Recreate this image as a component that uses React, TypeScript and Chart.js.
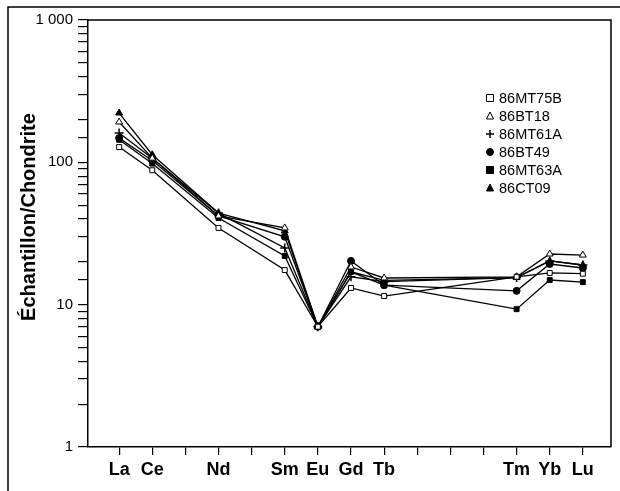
import React, { useEffect, useRef } from "react";
import { Chart, registerables } from "chart.js";

Chart.register(...registerables);

// Element sequence (positions on the x axis) and which ones are labelled
const ELEMENTS = ["La", "Ce", "Pr", "Nd", "Pm", "Sm", "Eu", "Gd", "Tb", "Dy", "Ho", "Er", "Tm", "Yb", "Lu"];
const SHOWN = ["La", "Ce", "Nd", "Sm", "Eu", "Gd", "Tb", "Tm", "Yb", "Lu"];
const Y_TICKS: Record<number, string> = { 1: "1", 10: "10", 100: "100", 1000: "1 000" };

// Chondrite-normalised values at SHOWN elements
const MT75B = [128, 88, 34.6, 17.5, 7.0, 13.1, 11.5, 15.7, 16.7, 16.5];
const BT18 = [192, 107, 42, 34.6, 7.0, 18.4, 15.4, 15.7, 22.7, 22.3];
const MT61A = [161, 107, 44, 25, 7.0, 15.7, 14.5, 15.5, 20.3, 19];
const BT49 = [148, 103, 42, 30, 7.0, 20.3, 13.7, 12.5, 19.3, 18.1];
const MT63A = [144, 98, 40.6, 22, 7.0, 17, 13.7, 9.3, 14.9, 14.4];
const CT09 = [222, 113, 44, 33, 7.0, 17, 14.8, 15.5, 20.3, 19];

const SERIES = [
  { name: "86MT75B", data: MT75B, style: "rect", fill: "#fff" },
  { name: "86BT18", data: BT18, style: "triangle", fill: "#fff" },
  { name: "86MT61A", data: MT61A, style: "cross", fill: "#000" },
  { name: "86BT49", data: BT49, style: "circle", fill: "#000" },
  { name: "86MT63A", data: MT63A, style: "rect", fill: "#000" },
  { name: "86CT09", data: CT09, style: "triangle", fill: "#000" },
];

const FONT = "'Liberation Sans', Arial, Helvetica, sans-serif";

function drawMarker(ctx: CanvasRenderingContext2D, style: string, fill: string, x: number, y: number) {
  ctx.save();
  ctx.strokeStyle = "#000";
  ctx.fillStyle = fill;
  ctx.lineWidth = 1;
  ctx.beginPath();
  if (style === "rect") {
    ctx.rect(x - 3.5, y - 3.5, 7, 7);
    ctx.fill();
    ctx.stroke();
  } else if (style === "triangle") {
    ctx.moveTo(x, y - 4);
    ctx.lineTo(x + 3.5, y + 3);
    ctx.lineTo(x - 3.5, y + 3);
    ctx.closePath();
    ctx.fill();
    ctx.stroke();
  } else if (style === "circle") {
    ctx.arc(x, y, 3.5, 0, Math.PI * 2);
    ctx.fill();
    ctx.stroke();
  } else {
    ctx.lineWidth = 1.5;
    ctx.moveTo(x - 4, y);
    ctx.lineTo(x + 4, y);
    ctx.moveTo(x, y - 4);
    ctx.lineTo(x, y + 4);
    ctx.stroke();
  }
  ctx.restore();
}

const decorPlugin = {
  id: "decor",
  afterDraw(chart: any) {
    const ctx: CanvasRenderingContext2D = chart.ctx;
    const { left, top, right, bottom } = chart.chartArea;
    ctx.save();
    ctx.strokeStyle = "#000";
    ctx.lineWidth = 1.5;
    ctx.beginPath();
    ctx.moveTo(left, top);
    ctx.lineTo(right, top);
    ctx.lineTo(right, bottom);
    ctx.stroke();
    // outer frame
    ctx.beginPath();
    ctx.moveTo(8, 491);
    ctx.lineTo(8, 7);
    ctx.lineTo(620, 7);
    ctx.stroke();
    // y title
    ctx.save();
    ctx.translate(29, 217);
    ctx.rotate(-Math.PI / 2);
    ctx.fillStyle = "#000";
    ctx.font = `bold 20px ${FONT}`;
    ctx.textAlign = "center";
    ctx.textBaseline = "middle";
    ctx.fillText("Échantillon/Chondrite", 0, 0);
    ctx.restore();
    // legend
    ctx.font = `14.5px ${FONT}`;
    ctx.fillStyle = "#000";
    ctx.textAlign = "left";
    ctx.textBaseline = "middle";
    SERIES.forEach((s, i) => {
      const y = 98 + i * 18;
      drawMarker(ctx, s.style, s.fill, 490, y);
      ctx.fillStyle = "#000";
      ctx.fillText(s.name, 499, y + 1);
    });
    ctx.restore();
  },
};

export default function App() {
  const ref = useRef<HTMLCanvasElement>(null);
  useEffect(() => {
    if (!ref.current) return;
    const positions = SHOWN.map((e) => ELEMENTS.indexOf(e));
    const chart = new Chart(ref.current, {
      type: "line",
      data: {
        datasets: SERIES.map((s) => ({
          label: s.name,
          data: s.data.map((v, i) => ({ x: positions[i], y: v })),
          borderColor: "#000",
          borderWidth: 1.3,
          backgroundColor: s.fill,
          pointBackgroundColor: s.fill,
          pointBorderColor: "#000",
          pointBorderWidth: s.style === "cross" ? 1.5 : 1,
          pointStyle: s.style as any,
          pointRadius: s.style === "triangle" ? 4 : s.style === "cross" ? 4.5 : 3.5,
          tension: 0,
          fill: false,
        })),
      },
      options: {
        responsive: false,
        animation: false,
        devicePixelRatio: 1,
        layout: { padding: { left: 0, top: 20, right: 9, bottom: 0 } },
        plugins: { legend: { display: false }, tooltip: { enabled: false } },
        scales: {
          x: {
            type: "linear",
            min: -0.94,
            max: 14.85,
            afterBuildTicks: (scale: any) => {
              scale.ticks = ELEMENTS.map((_, i) => ({ value: i }));
            },
            afterFit: (scale: any) => {
              scale.height = 44;
            },
            grid: { display: true, drawOnChartArea: false, drawTicks: true, tickLength: 8, color: "#000", lineWidth: 1.2 },
            border: { display: true, color: "#000", width: 1.5 },
            ticks: {
              autoSkip: false,
              maxRotation: 0,
              padding: 4,
              color: "#000",
              font: { family: FONT, size: 18, weight: "bold" },
              callback: (v: any) => {
                const e = ELEMENTS[Number(v)];
                return SHOWN.includes(e) ? e : "";
              },
            },
          },
          y: {
            type: "logarithmic",
            min: 1,
            max: 1000,
            afterFit: (scale: any) => {
              scale.width = 88;
            },
            grid: { display: true, drawOnChartArea: false, drawTicks: true, tickLength: 10, color: "#000", lineWidth: 1.2 },
            border: { display: true, color: "#000", width: 1.5 },
            ticks: {
              autoSkip: false,
              padding: 5,
              color: "#000",
              font: { family: FONT, size: 15 },
              callback: (v: any) => Y_TICKS[Number(v)] ?? "",
            },
          },
        },
      },
      plugins: [decorPlugin],
    });
    return () => chart.destroy();
  }, []);
  return (
    <div style={{ position: "absolute", left: 0, top: 0, width: 620, height: 491, background: "#fff" }}>
      <canvas ref={ref} width={620} height={491} />
    </div>
  );
}
